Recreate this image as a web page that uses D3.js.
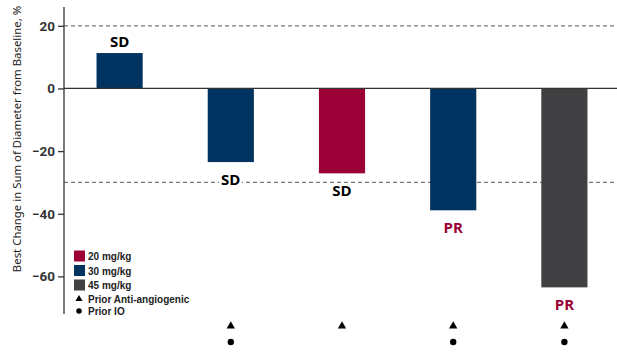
<!DOCTYPE html>
<html><head><meta charset="utf-8">
<script src="https://cdn.jsdelivr.net/npm/d3@7"></script>
<style>body{margin:0;background:#fff}svg{display:block}</style>
</head><body><svg id="c" width="617" height="359"></svg>
<script>
const patients = ["P1","P2","P3","P4","P5"];
const values = [11.3, -23.5, -27.1, -38.9, -63.5];
const doses = ["30 mg/kg","30 mg/kg","20 mg/kg","30 mg/kg","45 mg/kg"];
const responses = ["SD","SD","SD","PR","PR"];
const priorAntiAngio = [false, true, true, true, true];
const priorIO = [false, true, false, true, true];
const yTicks = [20, 0, -20, -40, -60];
const refLines = [20, -30];
const legendDoses = ["20 mg/kg","30 mg/kg","45 mg/kg"];
const legendMarkers = ["Prior Anti-angiogenic","Prior IO"];

const doseColor = d3.scaleOrdinal().domain(legendDoses).range(["#9B0036","#00335F","#414042"]);
const respColor = {SD:"#000000", PR:"#9B0036"};

const svg = d3.select("#c");
const x = d3.scaleBand().domain(patients).range([64,620]).paddingInner(0.585).paddingOuter(0.2925);
const y = d3.scaleLinear().domain([-72, 26]).range([314, 7]);

// reference dashed lines
svg.selectAll(".ref").data(refLines).enter().append("line")
  .attr("x1",64).attr("x2",617).attr("y1",d=>y(d)).attr("y2",d=>y(d))
  .attr("stroke","#777").attr("stroke-width",1.3).attr("stroke-dasharray","4,3");

// bars
svg.selectAll(".bar").data(patients).enter().append("rect")
  .attr("x",d=>x(d)).attr("width",x.bandwidth())
  .attr("y",(d,i)=>y(Math.max(0,values[i])))
  .attr("height",(d,i)=>Math.abs(y(values[i])-y(0)))
  .attr("fill",(d,i)=>doseColor(doses[i]));

// zero line
svg.append("line").attr("x1",64).attr("x2",617).attr("y1",y(0)).attr("y2",y(0))
  .attr("stroke","#333").attr("stroke-width",1.3);

// y axis
const ax = svg.append("g").attr("transform","translate(64,0)")
  .call(d3.axisLeft(y).tickValues(yTicks).tickSize(6).tickPadding(3).tickFormat(d3.format("d")));
ax.select(".domain").attr("d","M0,7V314").attr("stroke","#333").attr("stroke-width",1.3);
ax.selectAll(".tick line").attr("stroke","#333").attr("stroke-width",1.3);
ax.selectAll(".tick text").attr("font-family","Roboto, 'Noto Sans', sans-serif")
  .attr("font-size",13.5).attr("font-weight","bold").attr("fill","#333");

// y label
svg.append("text").attr("transform","translate(21,139) rotate(-90)")
  .attr("text-anchor","middle").attr("font-family","'Noto Sans', 'Open Sans', sans-serif")
  .attr("font-size",11.4).attr("fill","#222")
  .text("Best Change in Sum of Diameter from Baseline, %");

// response labels
svg.selectAll(".resp").data(patients).enter().append("text")
  .attr("x",d=>x(d)+x.bandwidth()/2)
  .attr("y",(d,i)=>values[i]>0 ? y(values[i])-6 : y(values[i])+23)
  .attr("text-anchor","middle")
  .attr("font-family","'Open Sans', 'Noto Sans', sans-serif")
  .attr("font-size",15).attr("font-weight","bold")
  .attr("fill",(d,i)=>respColor[responses[i]])
  .attr("stroke","#fff").attr("stroke-width",5).attr("paint-order","stroke")
  .text((d,i)=>responses[i]);

// markers below
const tri = d3.symbol().type(d3.symbolTriangle).size(30);
const circ = d3.symbol().type(d3.symbolCircle).size(32);
svg.selectAll(".tri").data(patients.filter((d,i)=>priorAntiAngio[i])).enter().append("path")
  .attr("d",tri).attr("transform",d=>`translate(${x(d)+x.bandwidth()/2},326)`).attr("fill","#000");
svg.selectAll(".circ").data(patients.filter((d,i)=>priorIO[i])).enter().append("path")
  .attr("d",circ).attr("transform",d=>`translate(${x(d)+x.bandwidth()/2},342)`).attr("fill","#000");

// legend
const lg = svg.append("g");
legendDoses.forEach((d,i)=>{
  const yy = 256 + i*14.5;
  lg.append("rect").attr("x",74).attr("y",yy-5.5).attr("width",11).attr("height",11).attr("fill",doseColor(d));
  lg.append("text").attr("x",88).attr("y",yy+4).attr("font-family","Arial, 'Liberation Sans', sans-serif")
    .attr("font-size",10).attr("font-weight","bold").attr("fill","#222").text(d);
});
legendMarkers.forEach((d,i)=>{
  const yy = 299 + i*12;
  lg.append("path").attr("d", i===0 ? d3.symbol().type(d3.symbolTriangle).size(22)() : d3.symbol().type(d3.symbolCircle).size(24)())
    .attr("transform",`translate(79,${yy})`).attr("fill","#000");
  lg.append("text").attr("x",88).attr("y",yy+3.5).attr("font-family","Arial, 'Liberation Sans', sans-serif")
    .attr("font-size",10).attr("font-weight","bold").attr("fill","#222").text(d);
});
</script></body></html>
